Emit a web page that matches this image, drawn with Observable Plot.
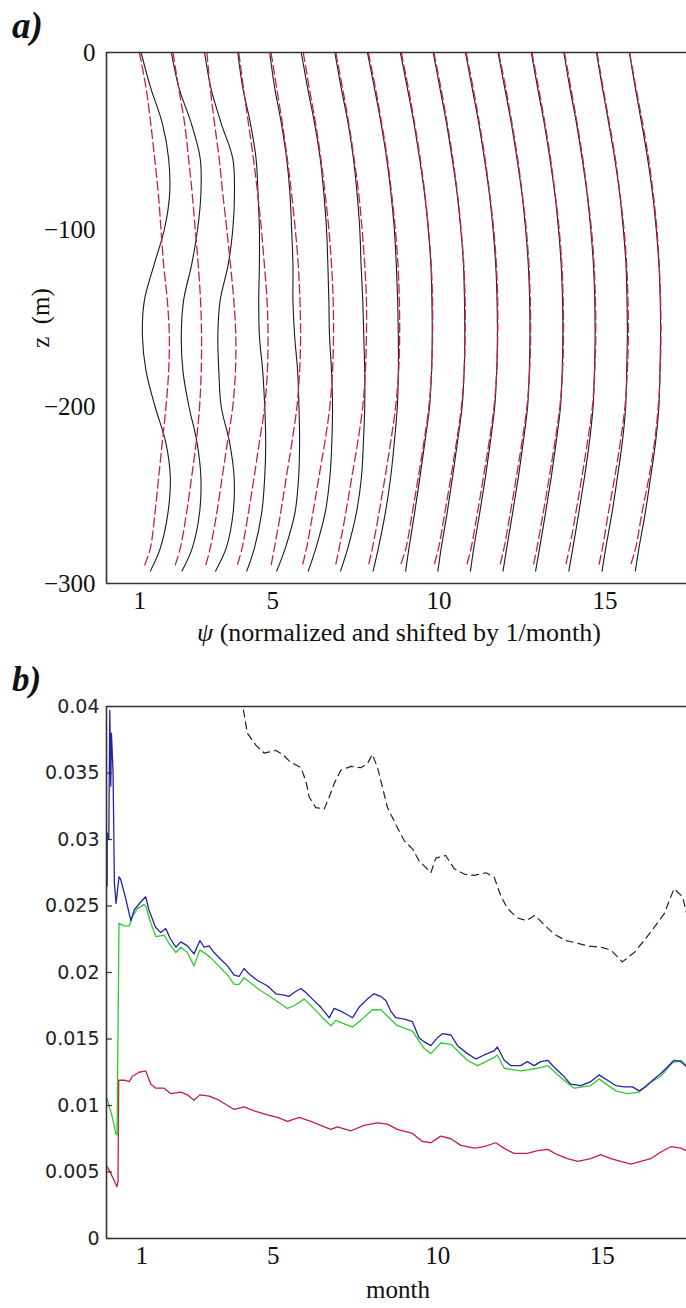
<!DOCTYPE html>
<html><head><meta charset="utf-8">
<script src="https://cdn.jsdelivr.net/npm/d3@7"></script>
<script src="https://cdn.jsdelivr.net/npm/@observablehq/plot@0.6"></script>
<style>
body{margin:0;background:#fff;}
#wrap{position:relative;width:686px;height:1308px;overflow:hidden;font-family:"Liberation Serif","Times New Roman",serif;color:#111;}
.lbl{position:absolute;white-space:nowrap;font-family:"Liberation Serif","Times New Roman",serif;}
.pan{position:absolute;font-family:"Liberation Serif","Times New Roman",serif;font-weight:bold;font-style:italic;line-height:1;}
svg{position:absolute;left:0;}
</style></head><body><div id="wrap"></div>
<script>
// ---------- Panel a data ----------
const months = [1,2,3,4,5,6,7,8,9,10,11,12,13,14,15,16];
const depths = [0,-20,-40,-60,-80,-100,-120,-140,-160,-180,-200,-220,-240,-260,-280,-293];
const redDepths = [0,-20,-40,-60,-80,-100,-120,-140,-160,-180,-200,-220,-240,-260,-280,-290];
// normalized psi profiles (observed, black solid), before shifting by month
const blackProfiles = [
  [0.04,0.33,0.68,0.87,0.90,0.74,0.43,0.14,0.08,0.19,0.46,0.78,0.92,0.85,0.62,0.32],
  [-0.05,0.18,0.55,0.82,0.84,0.74,0.56,0.32,0.25,0.30,0.48,0.72,0.84,0.80,0.58,0.27],
  [-0.05,0.14,0.45,0.80,0.85,0.80,0.66,0.42,0.35,0.38,0.45,0.70,0.84,0.81,0.60,0.28],
  [-0.05,0.10,0.33,0.50,0.56,0.60,0.60,0.58,0.60,0.70,0.76,0.79,0.76,0.67,0.45,0.22],
  [-0.09,0.06,0.26,0.42,0.52,0.57,0.61,0.61,0.66,0.75,0.79,0.81,0.78,0.67,0.38,0.12],
  [-0.14,0.05,0.26,0.43,0.54,0.62,0.66,0.69,0.71,0.77,0.80,0.78,0.72,0.58,0.30,0.07],
  [-0.13,0.06,0.27,0.43,0.54,0.62,0.66,0.71,0.74,0.77,0.77,0.73,0.67,0.52,0.26,0.04],
  [-0.15,0.06,0.26,0.43,0.56,0.66,0.72,0.76,0.78,0.78,0.75,0.66,0.55,0.39,0.18,0.02],
  [-0.16,0.05,0.25,0.42,0.57,0.68,0.76,0.79,0.80,0.78,0.72,0.58,0.43,0.27,0.10,0.00],
  [-0.17,0.03,0.23,0.40,0.55,0.66,0.74,0.77,0.78,0.76,0.70,0.56,0.41,0.25,0.07,-0.03],
  [-0.20,0.00,0.20,0.37,0.52,0.63,0.71,0.75,0.76,0.74,0.68,0.55,0.40,0.23,0.05,-0.05],
  [-0.22,-0.02,0.18,0.35,0.50,0.61,0.69,0.73,0.74,0.72,0.67,0.54,0.39,0.22,0.04,-0.07],
  [-0.22,-0.03,0.17,0.34,0.49,0.60,0.68,0.72,0.73,0.71,0.66,0.53,0.38,0.21,0.03,-0.09],
  [-0.24,-0.06,0.14,0.31,0.46,0.57,0.65,0.69,0.70,0.68,0.64,0.53,0.38,0.21,0.03,-0.09],
  [-0.26,-0.08,0.11,0.29,0.44,0.55,0.63,0.66,0.67,0.65,0.62,0.52,0.37,0.21,0.02,-0.09],
  [-0.27,-0.09,0.10,0.28,0.43,0.54,0.62,0.66,0.67,0.65,0.62,0.52,0.37,0.21,0.02,-0.09]
];
// normalized psi profiles (model, red dashed)
const redProfiles = [
  [-0.01,0.19,0.33,0.45,0.56,0.64,0.72,0.83,0.89,0.87,0.79,0.68,0.57,0.46,0.32,0.14],
  [0.00,0.17,0.35,0.47,0.58,0.67,0.76,0.83,0.86,0.85,0.80,0.70,0.56,0.41,0.22,0.06],
  [0.02,0.12,0.25,0.39,0.50,0.62,0.73,0.83,0.89,0.88,0.80,0.64,0.48,0.32,0.12,-0.02],
  [-0.02,0.12,0.27,0.42,0.55,0.66,0.75,0.83,0.86,0.84,0.76,0.60,0.44,0.27,0.08,-0.07],
  [-0.05,0.12,0.29,0.44,0.57,0.68,0.77,0.82,0.84,0.81,0.73,0.58,0.41,0.24,0.05,-0.05],
  [-0.08,0.10,0.29,0.45,0.58,0.69,0.77,0.82,0.83,0.80,0.72,0.57,0.39,0.21,0.02,-0.11],
  [-0.10,0.10,0.29,0.45,0.59,0.69,0.77,0.82,0.82,0.79,0.71,0.56,0.38,0.20,0.00,-0.11],
  [-0.12,0.09,0.28,0.45,0.58,0.69,0.77,0.81,0.82,0.79,0.70,0.55,0.38,0.20,0.00,-0.12],
  [-0.13,0.08,0.27,0.44,0.58,0.69,0.77,0.81,0.81,0.78,0.70,0.55,0.38,0.20,0.01,-0.16],
  [-0.15,0.06,0.25,0.42,0.56,0.67,0.75,0.79,0.79,0.76,0.68,0.53,0.36,0.18,-0.01,-0.15],
  [-0.18,0.03,0.22,0.39,0.53,0.65,0.73,0.77,0.77,0.74,0.66,0.51,0.34,0.16,-0.03,-0.17],
  [-0.20,0.01,0.20,0.37,0.51,0.63,0.71,0.75,0.76,0.73,0.65,0.50,0.33,0.15,-0.04,-0.17],
  [-0.20,0.00,0.19,0.36,0.50,0.62,0.70,0.74,0.75,0.72,0.64,0.49,0.32,0.14,-0.05,-0.16],
  [-0.22,-0.03,0.16,0.33,0.47,0.59,0.67,0.71,0.72,0.69,0.62,0.47,0.30,0.12,-0.07,-0.19],
  [-0.24,-0.06,0.13,0.31,0.45,0.57,0.65,0.69,0.70,0.67,0.60,0.46,0.29,0.10,-0.08,-0.19],
  [-0.26,-0.07,0.13,0.31,0.45,0.56,0.63,0.67,0.68,0.66,0.60,0.49,0.32,0.11,-0.08,-0.24]
];
const xTicks = [1,5,10,15];
const xTickLabels = ["1","5","10","15"];
const zTicks = [0,-100,-200,-300];
const zTickLabels = ["0","\u2212100","\u2212200","\u2212300"];

// ---------- Panel b data ([month, value]) ----------
const blueSeries = [[-0.05,0.0265],[-0.05,0.0305],[0.0,0.030],[0.03,0.0397],[0.06,0.034],[0.08,0.038],[0.13,0.035],[0.17,0.0267],[0.22,0.0252],[0.31,0.0272],[0.36,0.027],[0.5,0.0257],[0.67,0.0239],[0.77,0.0247],[0.97,0.0253],[1.12,0.0257],[1.22,0.0247],[1.42,0.0234],[1.58,0.023],[1.73,0.0233],[1.88,0.0225],[2.04,0.0219],[2.19,0.0223],[2.39,0.022],[2.59,0.0214],[2.77,0.0224],[2.9,0.0219],[3.05,0.022],[3.2,0.0215],[3.4,0.021],[3.61,0.0205],[3.81,0.0198],[3.96,0.0197],[4.11,0.0203],[4.26,0.0199],[4.52,0.0194],[4.82,0.019],[5.08,0.0184],[5.33,0.0183],[5.48,0.0182],[5.63,0.0185],[5.84,0.0188],[5.99,0.0185],[6.19,0.018],[6.44,0.0174],[6.7,0.0166],[6.85,0.0173],[7.05,0.0171],[7.2,0.0169],[7.41,0.0166],[7.61,0.0174],[7.86,0.018],[8.06,0.0184],[8.27,0.0182],[8.42,0.0179],[8.57,0.0171],[8.72,0.0166],[8.98,0.0165],[9.23,0.0163],[9.43,0.0151],[9.58,0.0148],[9.79,0.0145],[9.99,0.0151],[10.14,0.0154],[10.4,0.0153],[10.6,0.0145],[10.9,0.0139],[11.16,0.0135],[11.41,0.0138],[11.71,0.0141],[11.81,0.0144],[12.02,0.0134],[12.22,0.013],[12.52,0.013],[12.72,0.0133],[12.93,0.013],[13.13,0.0133],[13.34,0.0134],[13.53,0.0129],[13.79,0.0123],[14.04,0.0116],[14.35,0.0115],[14.65,0.0118],[14.9,0.0123],[15.16,0.0119],[15.41,0.0115],[15.67,0.0114],[15.92,0.0114],[16.12,0.0111],[16.32,0.0114],[16.53,0.0119],[16.78,0.0124],[16.98,0.0129],[17.18,0.0134],[17.39,0.0133],[17.56,0.0129]];
const greenSeries = [[-0.05,0.0105],[0.11,0.0091],[0.21,0.0079],[0.25,0.0078],[0.28,0.0156],[0.31,0.0237],[0.47,0.0235],[0.62,0.0235],[0.72,0.0242],[0.87,0.0248],[1.07,0.0251],[1.12,0.025],[1.28,0.0237],[1.43,0.0227],[1.68,0.0228],[1.83,0.0222],[2.04,0.0215],[2.19,0.0219],[2.39,0.0215],[2.59,0.0205],[2.77,0.0217],[2.95,0.0214],[3.1,0.0211],[3.3,0.0206],[3.61,0.0198],[3.81,0.0191],[3.96,0.0191],[4.11,0.0196],[4.52,0.0188],[5.08,0.0179],[5.43,0.0173],[5.63,0.0175],[5.94,0.018],[6.19,0.0174],[6.5,0.0166],[6.75,0.016],[6.9,0.0164],[7.1,0.0162],[7.41,0.0159],[7.66,0.0164],[8.01,0.0172],[8.27,0.0172],[8.52,0.0166],[8.77,0.016],[9.23,0.0156],[9.58,0.0143],[9.79,0.0139],[10.09,0.0147],[10.4,0.0146],[10.9,0.0134],[11.21,0.013],[11.71,0.0136],[11.81,0.0138],[12.02,0.0128],[12.52,0.0126],[13.03,0.0128],[13.34,0.013],[13.79,0.012],[14.15,0.0113],[14.65,0.0115],[14.9,0.012],[15.41,0.0111],[15.77,0.0109],[16.12,0.011],[16.37,0.0116],[16.78,0.0122],[17.13,0.0132],[17.39,0.0134],[17.56,0.013]];
const redSeries = [[-0.05,0.0054],[0.06,0.0049],[0.21,0.0041],[0.25,0.0039],[0.28,0.0043],[0.3,0.0119],[0.47,0.0119],[0.62,0.0118],[0.72,0.0122],[0.92,0.0125],[1.12,0.0126],[1.28,0.0116],[1.43,0.0113],[1.68,0.0113],[1.88,0.0109],[2.19,0.011],[2.39,0.0108],[2.59,0.0104],[2.77,0.0108],[3.05,0.0107],[3.35,0.0104],[3.61,0.01],[3.81,0.0097],[4.11,0.0099],[4.42,0.0096],[4.82,0.0093],[5.13,0.0091],[5.43,0.0088],[5.79,0.0091],[6.14,0.0088],[6.44,0.0085],[6.75,0.0082],[6.95,0.0084],[7.36,0.0081],[7.76,0.0085],[8.17,0.0087],[8.47,0.0086],[8.77,0.0082],[9.23,0.0079],[9.53,0.0073],[9.79,0.0072],[10.09,0.0077],[10.4,0.0075],[10.7,0.007],[11.11,0.0068],[11.41,0.0069],[11.76,0.0072],[12.07,0.0067],[12.32,0.0064],[12.72,0.0064],[13.03,0.0066],[13.34,0.0067],[13.64,0.0063],[13.94,0.006],[14.25,0.0058],[14.65,0.006],[14.95,0.0063],[15.26,0.006],[15.56,0.0058],[15.87,0.0056],[16.17,0.0058],[16.47,0.006],[16.78,0.0065],[17.08,0.0069],[17.39,0.0068],[17.56,0.0066]];
const dashedSeries = [[3.95,0.0415],[4.11,0.0395],[4.21,0.038],[4.47,0.0371],[4.72,0.0365],[5.08,0.0367],[5.28,0.0364],[5.53,0.0358],[5.84,0.0354],[5.99,0.0344],[6.09,0.0332],[6.29,0.0324],[6.55,0.0323],[6.7,0.0332],[6.85,0.0342],[7.05,0.0352],[7.36,0.0355],[7.66,0.0354],[7.86,0.0357],[8.01,0.0364],[8.17,0.0354],[8.32,0.0339],[8.47,0.0324],[8.77,0.0309],[8.98,0.0299],[9.23,0.0293],[9.43,0.0284],[9.79,0.0275],[9.94,0.0286],[10.24,0.0288],[10.5,0.0278],[10.8,0.0274],[11.1,0.0273],[11.46,0.0275],[11.71,0.0272],[11.91,0.0258],[12.12,0.0248],[12.42,0.0241],[12.7,0.0239],[12.95,0.0243],[13.23,0.0236],[13.53,0.0229],[13.89,0.0224],[14.25,0.0222],[14.55,0.022],[14.95,0.0219],[15.26,0.0217],[15.61,0.0208],[15.97,0.0215],[16.27,0.0224],[16.58,0.0234],[16.88,0.0244],[17.18,0.0263],[17.44,0.0257],[17.56,0.0245]];
const yTicksB = [0,0.005,0.01,0.015,0.02,0.025,0.03,0.035,0.04];
const yTickLabelsB = ["0","0.005","0.01","0.015","0.02","0.025","0.03","0.035","0.04"];

// ---------- build ----------
const wrap = document.getElementById("wrap");
const frameColor = "#333";
const serif = "Liberation Serif, Times New Roman, serif";

const blackRows = months.flatMap((m,i) => depths.map((z,j) => ({m, z, psi: m + blackProfiles[i][j]})));
const redRows = months.flatMap((m,i) => redDepths.map((z,j) => ({m, z, psi: m + redProfiles[i][j]})));

const xDomA = [0, 17.45];
const plotA = Plot.plot({
  width: 686, height: 660,
  marginTop: 52, marginBottom: 77, marginLeft: 106, marginRight: 0,
  x: {domain: xDomA},
  y: {domain: [-300, 0]},
  style: {fontFamily: serif, fontSize: "25px", color: "#111", background: "transparent", overflow: "visible"},
  marks: [
    Plot.line(blackRows, {x: "psi", y: "z", z: "m", stroke: "#1a1a1a", strokeWidth: 1.1, curve: "catmull-rom"}),
    Plot.line(redRows, {x: "psi", y: "z", z: "m", stroke: "#cc1f48", strokeWidth: 1.3, strokeDasharray: "9,4", curve: "catmull-rom"}),
    Plot.ruleY([0], {stroke: frameColor, strokeWidth: 1.6}),
    Plot.ruleY([-300], {stroke: frameColor, strokeWidth: 1.6}),
    Plot.ruleX([xDomA[0]], {stroke: frameColor, strokeWidth: 1.6}),
    Plot.axisX({ticks: xTicks, tickFormat: (d,i) => xTickLabels[i], tickSize: 0, tickPadding: 8, label: null, fontSize: 25, fontFamily: serif, fill: "#111"}),
    Plot.axisY({ticks: zTicks, tickFormat: (d,i) => zTickLabels[i], tickSize: 0, tickPadding: 11, label: null, fontSize: 25, fontFamily: serif, fill: "#111"})
  ]
});
plotA.style.top = "0px";
wrap.appendChild(plotA);

const pt = d => ({month: d[0], v: d[1]});
const xDomB = [-0.07, 17.56];
const plotB = Plot.plot({
  width: 686, height: 648,
  marginTop: 46, marginBottom: 70, marginLeft: 106, marginRight: 0,
  x: {domain: xDomB},
  y: {domain: [0, 0.04]},
  style: {fontFamily: serif, fontSize: "25px", color: "#111", background: "transparent", overflow: "visible"},
  marks: [
    Plot.line(redSeries.map(pt), {x: "month", y: "v", stroke: "#c41e3f", strokeWidth: 1.3}),
    Plot.line(greenSeries.map(pt), {x: "month", y: "v", stroke: "#33c933", strokeWidth: 1.3}),
    Plot.line(blueSeries.map(pt), {x: "month", y: "v", stroke: "#2424a4", strokeWidth: 1.3}),
    Plot.line(dashedSeries.map(pt), {x: "month", y: "v", stroke: "#222", strokeWidth: 1.2, strokeDasharray: "7,5", clip: true}),
    Plot.ruleY(yTicksB, {x1: xDomB[0], x2: xDomB[0] + 0.18, stroke: frameColor, strokeWidth: 1.2}),
    Plot.ruleY([0.04], {stroke: frameColor, strokeWidth: 1.6}),
    Plot.ruleY([0], {stroke: frameColor, strokeWidth: 1.6}),
    Plot.ruleX([xDomB[0]], {stroke: frameColor, strokeWidth: 1.6}),
    Plot.axisX({ticks: xTicks, tickFormat: (d,i) => xTickLabels[i], tickSize: 0, tickPadding: 8, label: null, fontSize: 25, fontFamily: serif, fill: "#111"}),
    Plot.axisY({ticks: yTicksB, tickFormat: (d,i) => yTickLabelsB[i], tickSize: 0, tickPadding: 7, label: null, fontSize: 19, fontFamily: "DejaVu Sans", fill: "#222"})
  ]
});
plotB.style.top = "660px";
wrap.appendChild(plotB);

// ---------- text ----------
function addDiv(cls, html, css) {
  const d = document.createElement("div");
  d.className = cls; d.innerHTML = html;
  Object.assign(d.style, css);
  wrap.appendChild(d);
  return d;
}
addDiv("pan", "a)", {left: "12px", top: "7px", fontSize: "37px"});
addDiv("pan", "b)", {left: "12px", top: "662px", fontSize: "35px"});
addDiv("lbl", "<i>\u03c8</i> (normalized and shifted by 1/month)", {left: "399px", top: "620px", fontSize: "26px", lineHeight: "26px", transform: "translateX(-50%)"});
addDiv("lbl", "month", {left: "398px", top: "1277px", fontSize: "25px", lineHeight: "25px", transform: "translateX(-50%)"});
addDiv("lbl", "z&nbsp;&nbsp;(m)", {left: "40px", top: "318px", fontSize: "25px", lineHeight: "25px", transform: "translate(-50%,-50%) rotate(-90deg)"});
</script></body></html>
